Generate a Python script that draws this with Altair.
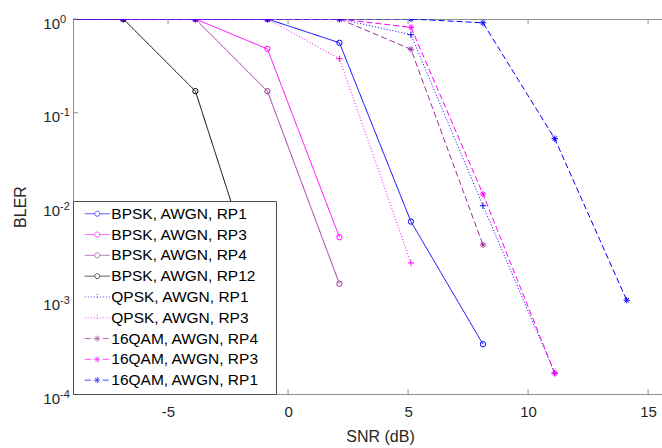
import altair as alt
import pandas as pd

# ---------------- data ----------------
snr = [-9.85, -6.86, -3.86, -0.86, 2.14, 5.12, 8.12, 11.11, 14.11]

series_names = [
    "BPSK, AWGN, RP1", "BPSK, AWGN, RP3", "BPSK, AWGN, RP4", "BPSK, AWGN, RP12",
    "QPSK, AWGN, RP1", "QPSK, AWGN, RP3",
    "16QAM, AWGN, RP4", "16QAM, AWGN, RP3", "16QAM, AWGN, RP1",
]

bler_bpsk_rp1 = [1, 1, 1, 1, 0.558, 0.0069, 0.00034]
bler_bpsk_rp3 = [1, 1, 1, 0.48, 0.0047]
bler_bpsk_rp4 = [1, 1, 1, 0.17, 0.0015]
bler_bpsk_rp12 = [1, 1, 0.17, 0.0007]
bler_qpsk_rp1 = [1, 1, 1, 1, 1, 0.68, 0.0102, 0.000167]
bler_qpsk_rp3 = [1, 1, 1, 1, 0.377, 0.0025]
bler_16qam_rp4 = [1, 1, 1, 1, 1, 0.475, 0.0039]
bler_16qam_rp3 = [1, 1, 1, 1, 1, 0.815, 0.0136, 0.000167]
bler_16qam_rp1 = [1, 1, 1, 1, 1, 1, 0.91, 0.053, 0.001]

series_values = [bler_bpsk_rp1, bler_bpsk_rp3, bler_bpsk_rp4, bler_bpsk_rp12,
                 bler_qpsk_rp1, bler_qpsk_rp3,
                 bler_16qam_rp4, bler_16qam_rp3, bler_16qam_rp1]

series_colors = ["#0000FF", "#FF00FF", "#993399", "#000000",
                 "#0000FF", "#FF00FF",
                 "#993399", "#FF00FF", "#0000FF"]
series_dash = [[1, 0]] * 4 + [[1, 2]] * 2 + [[6, 3]] * 3
series_marker = ["o"] * 4 + ["+"] * 2 + ["*"] * 3

x_ticks = [-5, 0, 5, 10, 15]
y_ticks = [1e-4, 1e-3, 1e-2, 1e-1, 1]

# ---------------- tables ----------------
rows = []
for i, (name, vals) in enumerate(zip(series_names, series_values)):
    for s, v in zip(snr, vals):
        rows.append({"series": name, "snr": s, "bler": v, "marker": series_marker[i], "k": i})
df = pd.DataFrame(rows)
df_legend = pd.DataFrame({"series": series_names, "snr": [0.0] * len(series_names),
                          "bler": [0.5] * len(series_names)})
df_xt = pd.DataFrame({"snr": x_ticks})
df_yt = pd.DataFrame({"bler": y_ticks})

# ---------------- styles ----------------
W, H = 589, 375
AX = "#8f8f8f"
TXT = "#262626"
FONT = "Liberation Sans"

PLUS = "M-1,0H1M0,-1V1"
STAR = "M-1,0H1M0,-1V1M-0.7,-0.7L0.7,0.7M-0.7,0.7L0.7,-0.7"

L = 2.083
LEG_O = (f"M-{L},0H-0.42M0.42,0H{L}"
         "M0.42,0A0.42,0.42,0,1,1,-0.42,0A0.42,0.42,0,1,1,0.42,0")
LEG_P = f"M-{L},0H{L}M0,-0.5V0.5"
LEG_S = f"M-{L},0H{L}M0,-0.5V0.5M-0.36,-0.36L0.36,0.36M-0.36,0.36L0.36,-0.36"
legend_shapes = [LEG_O] * 4 + [LEG_P] * 2 + [LEG_S] * 3

xscale = alt.Scale(domain=[-8.96, 15.58], nice=False, zero=False)
yscale = alt.Scale(type="log", domain=[1e-4, 1], nice=False)
cscale = alt.Scale(domain=series_names, range=series_colors)
dscale = alt.Scale(domain=series_names, range=series_dash)

exp_expr = ("datum.value >= 0.5 ? '0' : datum.value >= 0.05 ? '-1' : "
            "datum.value >= 0.005 ? '-2' : datum.value >= 0.0005 ? '-3' : '-4'")

xaxis_bottom = alt.Axis(values=x_ticks, ticks=False, grid=False, domainColor=AX,
                        labelExpr="'' + datum.value",
                        labelFont=FONT, labelFontSize=15, labelColor=TXT, labelPadding=10,
                        title="SNR (dB)", titleFont=FONT, titleFontSize=16, titleColor=TXT,
                        titleFontWeight="normal", titleBaseline="middle", titleY=42, titleX=307)
xaxis_top = alt.Axis(orient="top", labels=False, ticks=False, grid=False, domainColor=AX, title=None)
yaxis_base = alt.Axis(orient="left", values=y_ticks, ticks=False, grid=False, domainColor=AX,
                      labelExpr="'10'", labelAlign="right",
                      labelFont=FONT, labelFontSize=15, labelColor=TXT, labelPadding=13.5,
                      labelOffset=4, labelBaseline="middle",
                      title="BLER", titleFont=FONT, titleFontSize=16, titleColor=TXT,
                      titleFontWeight="normal", titleBaseline="middle", titleX=-53)
yaxis_exp = alt.Axis(orient="left", values=y_ticks, ticks=False, grid=False, domain=False,
                     labelExpr=exp_expr, labelAlign="left",
                     labelFont=FONT, labelFontSize=11, labelColor=TXT, labelPadding=13.5,
                     labelOffset=0, labelBaseline="middle", title=None)

X = alt.X("snr:Q", scale=xscale, axis=xaxis_bottom)
Xn = alt.X("snr:Q", scale=xscale, axis=None)
Y = alt.Y("bler:Q", scale=yscale, axis=yaxis_base)
Yn = alt.Y("bler:Q", scale=yscale, axis=None)

base = alt.Chart(df)

lines = base.mark_line(strokeWidth=1, clip=True).encode(
    x=X, y=Y,
    color=alt.Color("series:N", scale=cscale, legend=None),
    strokeDash=alt.StrokeDash("series:N", scale=dscale, legend=None),
    detail="series:N",
    order="snr:Q",
)

def marker_layer(code, shape, size):
    return base.transform_filter(alt.datum.marker == code).mark_point(
        shape=shape, size=size, filled=False, strokeWidth=1, opacity=1, clip=True
    ).encode(
        x=Xn, y=Yn,
        color=alt.Color("series:N", scale=cscale, legend=None),
    )

pts_o = marker_layer("o", "circle", 28)
pts_p = marker_layer("+", PLUS, 40)
pts_s = marker_layer("*", STAR, 40)

tick_bottom = alt.Chart(df_xt).mark_rule(color=AX, strokeWidth=1).encode(
    x=Xn, y=alt.value(H), y2=alt.value(H - 5))
tick_top = alt.Chart(df_xt).mark_rule(color=AX, strokeWidth=1).encode(
    x=alt.X("snr:Q", scale=xscale, axis=xaxis_top), y=alt.value(0), y2=alt.value(5))
tick_left = alt.Chart(df_yt).mark_rule(color=AX, strokeWidth=1).encode(
    y=alt.Y("bler:Q", scale=yscale, axis=yaxis_exp), x=alt.value(0), x2=alt.value(5))

leg = alt.Legend(title=None, orient="bottom-left", offset=0, padding=5,
                 fillColor="white", strokeColor="#4d4d4d",
                 symbolSize=144, symbolStrokeWidth=1, symbolFillColor="transparent",
                 symbolOffset=11.5, labelOffset=6.3, labelFont=FONT, labelFontSize=15.5,
                 labelColor="#000000", rowPadding=3.8, labelLimit=300,
                 labelExpr="datum.label + '\u2800'")

legend_layer = alt.Chart(df_legend).transform_filter("datum.snr > 1000").mark_point(
    filled=False, strokeWidth=1).encode(
    x=Xn, y=Yn,
    color=alt.Color("series:N", scale=cscale, legend=leg),
    shape=alt.Shape("series:N", scale=alt.Scale(domain=series_names, range=legend_shapes), legend=leg),
    strokeDash=alt.StrokeDash("series:N", scale=dscale, legend=leg),
)

chart = alt.layer(
    lines, pts_o, pts_p, pts_s, tick_bottom, tick_top, tick_left, legend_layer
).resolve_scale(
    color="independent", strokeDash="independent", shape="independent"
).resolve_axis(
    x="independent", y="independent"
).properties(
    width=W, height=H,
    autosize=alt.AutoSizeParams(type="none"),
    padding={"left": 73, "top": 19, "right": 0, "bottom": 54},
    background="white",
).configure_view(stroke=None)

chart.save("out.html", embed_options={"renderer": "svg", "actions": False})
